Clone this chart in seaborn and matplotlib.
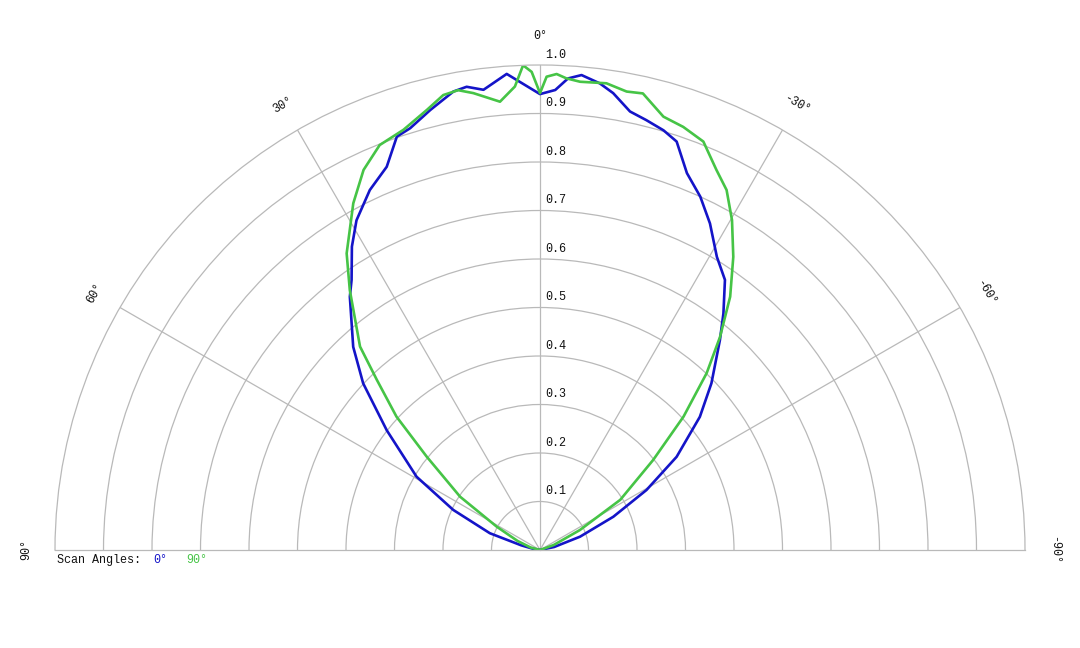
import numpy as np
import pandas as pd
import matplotlib
matplotlib.use("Agg")
import matplotlib.pyplot as plt
import seaborn as sns

# Beam pattern readings: angle (deg, + is left of 0°) and normalised intensity
angles_0 = [90, 80, 76, 71.5, 65.2, 59.3, 52.0, 46.7, 42.6, 36.9, 34.9, 31.8, 29.1,
            25.3, 21.8, 19.1, 17.1, 14.0, 10.7, 9.0, 7.0, 4.0, 0, -1.9, -3.4, -5.0,
            -7.3, -9.1, -11.6, -13.9, -16.4, -18.5, -21.3, -24.4, -27.5, -31.1,
            -34.4, -37.8, -40.6, -45.8, -50.2, -55.7, -60.6, -65.6, -71.6, -78, -90]
r_0 = [0.0, 0.015, 0.04, 0.109, 0.197, 0.296, 0.401, 0.501, 0.569, 0.653, 0.679,
       0.736, 0.778, 0.821, 0.851, 0.902, 0.910, 0.935, 0.962, 0.967, 0.956, 0.984,
       0.940, 0.949, 0.974, 0.983, 0.970, 0.954, 0.923, 0.913, 0.902, 0.888, 0.834,
       0.800, 0.759, 0.706, 0.675, 0.617, 0.570, 0.493, 0.429, 0.341, 0.252, 0.166,
       0.087, 0.03, 0.0]

angles_90 = [90, 75, 68, 61.7, 56.3, 50.5, 47.1, 43.8, 41.5, 36.2, 33.1, 28.3, 24.9,
             21.6, 18.0, 14.4, 12.0, 10.1, 8.3, 5.1, 3.1, 2.0, 1.0, 0, -0.8, -2.0,
             -3.2, -4.9, -8.1, -10.7, -12.7, -15.9, -18.7, -21.8, -24.9, -27.4,
             -30.2, -33.4, -36.9, -40.2, -43.3, -47.1, -51.5, -58, -63.4, -70, -90]
r_90 = [0.0, 0.02, 0.05, 0.101, 0.198, 0.303, 0.404, 0.486, 0.560, 0.664, 0.730,
        0.812, 0.864, 0.898, 0.911, 0.937, 0.959, 0.963, 0.952, 0.928, 0.957, 1.0,
        0.986, 0.942, 0.976, 0.982, 0.974, 0.969, 0.972, 0.962, 0.965, 0.929, 0.921,
        0.907, 0.864, 0.836, 0.787, 0.724, 0.653, 0.575, 0.501, 0.404, 0.298, 0.195,
        0.092, 0.03, 0.0]

ring_values = [0.1, 0.2, 0.3, 0.4, 0.5, 0.6, 0.7, 0.8, 0.9, 1.0]
angle_ticks = [90, 60, 30, 0, -30, -60, -90]

blue = "#1414c8"
green = "#46c446"
grid_gray = "#b9b9b9"

sns.set_style("white")
plt.rcParams["font.family"] = ["Liberation Mono", "DejaVu Sans Mono"]

df0 = pd.DataFrame({"theta": np.deg2rad(angles_0), "r": r_0})
df90 = pd.DataFrame({"theta": np.deg2rad(angles_90), "r": r_90})

fig = plt.figure(figsize=(10.8, 6.48), dpi=100)
# the half-disc is drawn at half the box size, centred in the box
ax = fig.add_axes([-430 / 1080, -144.5 / 648, 1940 / 1080, 970 / 648], projection="polar")
ax.set_theta_zero_location("N")
ax.set_theta_direction(1)
ax.set_thetamin(-90)
ax.set_thetamax(90)
ax.set_ylim(0, 1.0)

sns.lineplot(data=df0, x="theta", y="r", ax=ax, color=blue, linewidth=1.9,
             sort=False, estimator=None)
sns.lineplot(data=df90, x="theta", y="r", ax=ax, color=green, linewidth=1.9,
             sort=False, estimator=None)

ax.set_rgrids(ring_values[:-1], labels=[])
ax.set_thetagrids([-60, -30, 0, 30, 60], labels=[])
ax.grid(True, color=grid_gray, linewidth=0.9)
for sp in ax.spines.values():
    sp.set_color(grid_gray)
    sp.set_linewidth(0.9)
ax.set_xlabel("")
ax.set_ylabel("")
ax.tick_params(length=0)

# radial labels along the 0° line
for v in ring_values:
    ax.annotate(f"{v:.1f}", xy=(0, v), xytext=(4, 3), textcoords="offset points",
                ha="left", va="bottom", fontsize=8.5, color="#111111")

# angle labels around the outside
for a in angle_ticks:
    ax.text(np.deg2rad(a), 1.06, f"{a}°", rotation=a, rotation_mode="anchor",
            ha="center", va="center", fontsize=8.5, color="#111111")

fig.text(57 / 1080, 1 - 560 / 648, "Scan Angles:", ha="left", va="center",
         fontsize=8.5, color="#111111")
fig.text(153 / 1080, 1 - 560 / 648, "0°", ha="left", va="center",
         fontsize=8.5, color=blue)
fig.text(186 / 1080, 1 - 560 / 648, "90°", ha="left", va="center",
         fontsize=8.5, color=green)

fig.savefig("out.png", dpi=100)
